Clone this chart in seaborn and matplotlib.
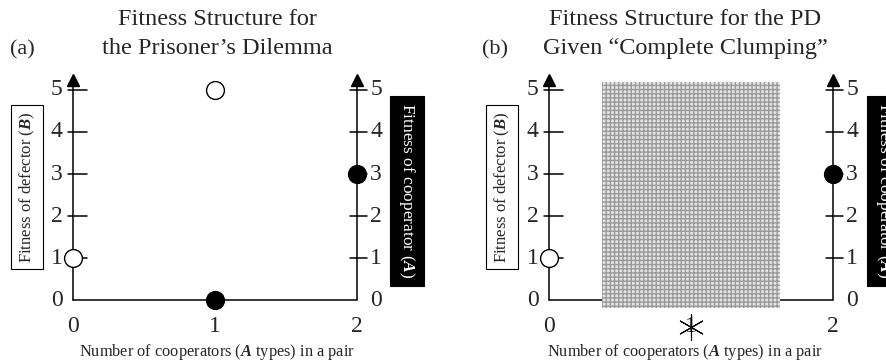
import matplotlib
matplotlib.use("Agg")
import matplotlib.pyplot as plt
import seaborn as sns
import pandas as pd
from matplotlib.patches import Rectangle

sns.set_theme(style="white")
plt.rcParams["font.family"] = ["Liberation Serif", "DejaVu Serif"]
plt.rcParams["mathtext.fontset"] = "custom"
plt.rcParams["mathtext.rm"] = "Liberation Serif"
plt.rcParams["mathtext.it"] = "Liberation Serif:italic"
plt.rcParams["mathtext.bf"] = "Liberation Serif:bold"
try:
    plt.rcParams["mathtext.bfit"] = "Liberation Serif:italic:bold"
    BFIT = r"\mathbfit"
except KeyError:
    BFIT = r"\mathbf"

# ---- data ----
titles = ["Fitness Structure for\nthe Prisoner\u2019s Dilemma",
          "Fitness Structure for the PD\nGiven \u201cComplete Clumping\u201d"]
panel_tags = ["(a)", "(b)"]
y_ticks = [0, 1, 2, 3, 4, 5]
x_ticks = [0, 1, 2]
# panel (a)
defector_x_a = [0, 1]
defector_y_a = [1, 5]
coop_x_a = [1, 2]
coop_y_a = [0, 3]
# panel (b): complete clumping, only homogeneous pairs
defector_x_b = [0]
defector_y_b = [1]
coop_x_b = [2]
coop_y_b = [3]
excluded_x_b = [1]

xlabel = "Number of cooperators ($" + BFIT + "{A}$ types) in a pair"
left_label = "Fitness of defector ($" + BFIT + "{B}$)"
right_label = "Fitness of cooperator ($" + BFIT + "{A}$)"

W, H = 887, 363
fig = plt.figure(figsize=(W / 100, H / 100), dpi=100)

def fx(px):
    return px / W

def fy(py):
    return 1 - py / H

XL = (-0.232, 2.303)
YL = (-0.714, 5.476)

def make_panel(left_px, dx, dy, cx, cy, clump, title, tag, title_cx, tag_x,
               lbox_x, rbox_x):
    ax = fig.add_axes([fx(left_px), fy(330), fx(360), 260 / H])
    ax.set_xlim(*XL)
    ax.set_ylim(*YL)
    ax.axis("off")
    lw = 1.1
    # axes lines
    ax.plot([0, 0], [0, 5.2], color="black", lw=lw, zorder=2)
    ax.plot([2, 2], [0, 5.2], color="black", lw=lw, zorder=2)
    ax.plot([0, 2], [0, 0], color="black", lw=lw, zorder=2)
    ax.plot([0, 2], [5.24, 5.24], ls="none", marker="^", ms=8, color="black",
            clip_on=False, zorder=2)
    for t in y_ticks[1:]:
        ax.plot([-0.035, 0.1], [t, t], color="black", lw=lw, zorder=2)
        ax.plot([2 - 0.05, 2 + 0.07], [t, t], color="black", lw=lw, zorder=2)
    for t in y_ticks:
        ax.text(-0.115, t, str(t), ha="center", va="center", fontsize=17)
        ax.text(2.135, t, str(t), ha="center", va="center", fontsize=17)
    for t in x_ticks:
        ax.text(t, -0.64, str(t), ha="center", va="center", fontsize=17)
    if clump:
        ax.add_patch(Rectangle((0.373, -0.19), 1.254, 5.38, facecolor="#e4e4e4",
                               edgecolor="#9a9a9a", hatch="++++", lw=0, zorder=3))
        ax.plot(excluded_x_b, [-0.64], ls="none", marker=(6, 2, 0), ms=19,
                mew=0.8, color="black", clip_on=False, zorder=4)
    dfd = pd.DataFrame({"x": dx, "y": dy})
    dfc = pd.DataFrame({"x": cx, "y": cy})
    sns.scatterplot(data=dfd, x="x", y="y", ax=ax, s=165, color="white",
                    edgecolor="black", linewidth=1.0, zorder=5, clip_on=False)
    sns.scatterplot(data=dfc, x="x", y="y", ax=ax, s=165, color="black",
                    edgecolor="black", linewidth=1.0, zorder=5, clip_on=False)
    ax.set_xlabel("")
    ax.set_ylabel("")
    ax.axis("off")
    # titles
    fig.text(fx(title_cx), fy(34), title, ha="center", va="center",
             fontsize=17.5, linespacing=1.5)
    fig.text(fx(tag_x), fy(50), tag, ha="center", va="center", fontsize=16)
    fig.text(fx(title_cx), fy(352), xlabel, ha="center", va="center", fontsize=11.8)
    fig.text(fx(lbox_x), fy(187), left_label, rotation=90, ha="center",
             va="center", fontsize=12,
             bbox=dict(boxstyle="square,pad=0.4", fc="white", ec="black", lw=0.8))
    fig.text(fx(rbox_x), fy(191), right_label, rotation=-90, ha="center",
             va="center", fontsize=12.5, color="white",
             bbox=dict(boxstyle="square,pad=0.4", fc="black", ec="black", lw=0.8))
    return ax

make_panel(40, defector_x_a, defector_y_a, coop_x_a, coop_y_a, False,
           titles[0], panel_tags[0], 217, 22, 27, 407)
make_panel(516, defector_x_b, defector_y_b, coop_x_b, coop_y_b, True,
           titles[1], panel_tags[1], 685, 495, 502, 884)

fig.savefig("out.png", dpi=100)
